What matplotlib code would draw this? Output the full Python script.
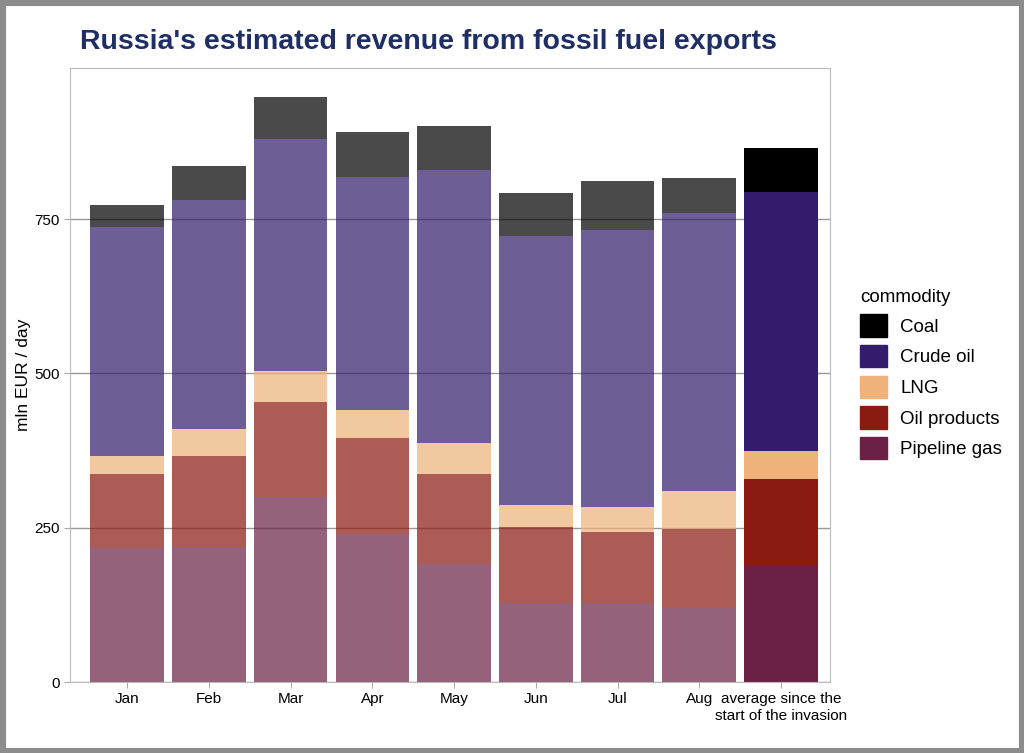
import numpy as np
import matplotlib
matplotlib.use("Agg")
import matplotlib.pyplot as plt
from matplotlib.patches import Patch, Rectangle

plt.rcParams['font.family'] = ['Liberation Sans', 'DejaVu Sans']

months = ['Jan', 'Feb', 'Mar', 'Apr', 'May', 'Jun', 'Jul', 'Aug',
          'average since the\nstart of the invasion']
commodities = ['Pipeline gas', 'Oil products', 'LNG', 'Crude oil', 'Coal']
colors = {'Coal': '#000000', 'Crude oil': '#321c6b', 'LNG': '#eeb27a',
          'Oil products': '#8b1a10', 'Pipeline gas': '#6a2145'}

# values in mln EUR / day
pipeline_gas = [217, 219, 300, 240, 191, 128, 128, 120, 188]
oil_products = [120, 147, 154, 155, 146, 123, 115, 128, 141]
lng = [29, 44, 50, 46, 50, 36, 40, 61, 45]
crude_oil = [371, 371, 376, 377, 442, 435, 449, 451, 420]
coal = [36, 55, 68, 73, 72, 70, 80, 56, 71]

series = {'Pipeline gas': pipeline_gas, 'Oil products': oil_products,
          'LNG': lng, 'Crude oil': crude_oil, 'Coal': coal}

fig = plt.figure(figsize=(10.24, 7.53), dpi=100)
ax = fig.add_axes([70/1024, 1-682/753, 760/1024, 614/753])

x = np.arange(len(months))
bottom = np.zeros(len(months))
for c in commodities:
    vals = np.array(series[c], dtype=float)
    for i in range(len(months)):
        a = 1.0 if i == len(months)-1 else 0.71
        ax.bar(x[i], vals[i], bottom=bottom[i], width=0.9, color=colors[c],
               alpha=a, linewidth=0, zorder=2)
    bottom += vals

ax.set_xlim(-0.7, 8.6)
ax.set_ylim(0, 995)
ax.set_yticks([0, 250, 500, 750])
ax.set_xticks(x)
ax.set_xticklabels(months, fontsize=11)
labs = ax.get_xticklabels()
labs[-1].set_horizontalalignment('center')
ax.tick_params(axis='both', colors='#aaaaaa', labelcolor='black', labelsize=11, length=4)
ax.grid(axis='y', color='#999999', linewidth=1, zorder=1)
ax.set_axisbelow(True)
for s in ax.spines.values():
    s.set_color('#bbbbbb')
ax.set_ylabel('mln EUR / day', fontsize=12.5, labelpad=2)

handles = [Patch(facecolor=colors[c], edgecolor=colors[c]) for c in
           ['Coal', 'Crude oil', 'LNG', 'Oil products', 'Pipeline gas']]
leg = fig.legend(handles, ['Coal', 'Crude oil', 'LNG', 'Oil products', 'Pipeline gas'],
                 title='commodity', loc='upper left', bbox_to_anchor=(843/1024, 1-272/753),
                 frameon=False, fontsize=13.5, title_fontsize=13.5,
                 handlelength=1.45, handleheight=1.45, labelspacing=0.45, handletextpad=0.7)
leg._legend_box.align = 'left'

fig.text(80/1024, 1-42/753, "Russia's estimated revenue from fossil fuel exports",
         fontsize=20.5, fontweight='bold', color='#1f2f66', va='center', ha='left')

fig.patches.append(Rectangle((0, 0), 1, 1, transform=fig.transFigure, fill=False,
                             edgecolor='#8c8c8c', linewidth=8))

plt.savefig('out.png', dpi=100)
